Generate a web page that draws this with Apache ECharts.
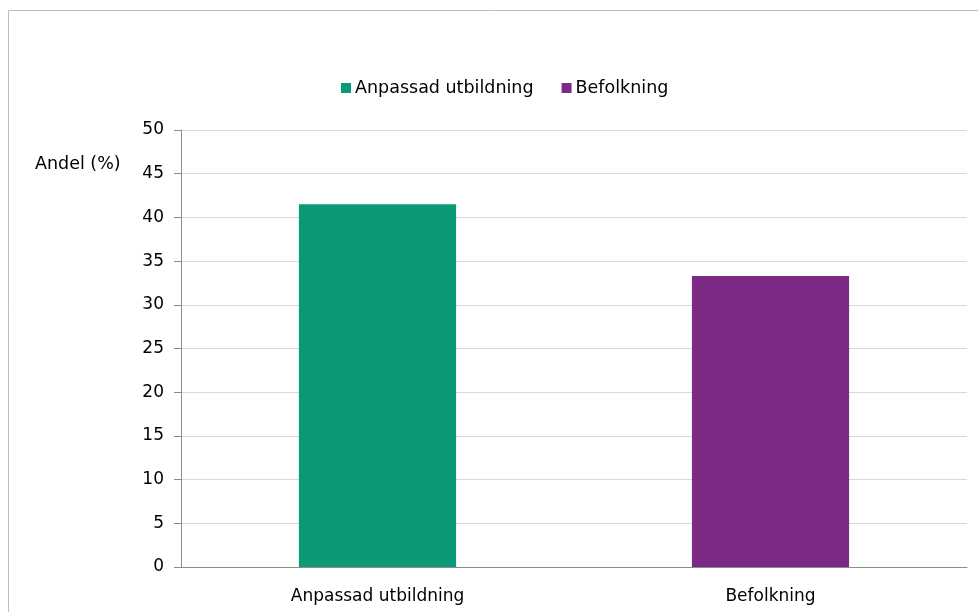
<!DOCTYPE html>
<html>
<head>
<meta charset="utf-8">
<style>
  html, body { margin: 0; padding: 0; background: #ffffff; }
  #chart { width: 978px; height: 612px; }
</style>
<script src="https://cdn.jsdelivr.net/npm/echarts@6/dist/echarts.min.js"></script>
</head>
<body>
<div id="chart"></div>
<script>
// Share (%) for each group
const categories = ['Anpassad utbildning', 'Befolkning'];
const seriesNames = ['Anpassad utbildning', 'Befolkning'];
const seriesColors = ['#0b9a78', '#7b2b86'];
const values = [41.5, 33.3];
const yTicks = { min: 0, max: 50, interval: 5 };
const yAxisTitle = 'Andel (%)';

const FONT = 'DejaVu Sans';
const FS = 17;

// one series per group so each bar gets its own legend entry; stacked so bars stay centred
const series = seriesNames.map((name, i) => ({
  name: name,
  type: 'bar',
  stack: 'all',
  barWidth: '40%',
  itemStyle: { color: seriesColors[i] },
  data: categories.map((c, j) => (j === i ? values[j] : null))
}));

const chart = echarts.init(document.getElementById('chart'), null, { renderer: 'canvas' });
chart.setOption({
  animation: false,
  backgroundColor: '#ffffff',
  textStyle: { fontFamily: FONT, color: '#000000' },
  graphic: [
    {
      type: 'rect',
      shape: { x: 8.5, y: 10.5, width: 990, height: 620 },
      style: { fill: 'none', stroke: '#bdbdbd', lineWidth: 1 },
      silent: true
    },
    {
      type: 'text',
      left: 35,
      top: 155,
      style: { text: yAxisTitle, fontFamily: FONT, fontSize: 17.5, fill: '#000000' }
    }
  ],
  legend: {
    top: 74,
    left: 336,
    itemWidth: 10,
    itemHeight: 10,
    itemGap: 28,
    icon: 'rect',
    textStyle: { fontFamily: FONT, fontSize: 17.5, color: '#000000', padding: [0, 0, 0, -1] },
    data: seriesNames
  },
  grid: { left: 181, right: 11, top: 130, bottom: 45, containLabel: false },
  xAxis: {
    type: 'category',
    data: categories,
    axisLine: { lineStyle: { color: '#8c8c8c', width: 1 } },
    axisTick: { show: false },
    axisLabel: { fontFamily: FONT, fontSize: FS, color: '#000000', margin: 21 }
  },
  yAxis: {
    type: 'value',
    min: yTicks.min,
    max: yTicks.max,
    interval: yTicks.interval,
    axisLine: { show: true, lineStyle: { color: '#8c8c8c', width: 1 } },
    axisTick: { show: true, inside: false, length: 7, lineStyle: { color: '#8c8c8c' } },
    axisLabel: { fontFamily: FONT, fontSize: FS, color: '#000000', margin: 17 },
    splitLine: { show: true, lineStyle: { color: '#d9d9d9', width: 1 } }
  },
  series: series
});
</script>
</body>
</html>
